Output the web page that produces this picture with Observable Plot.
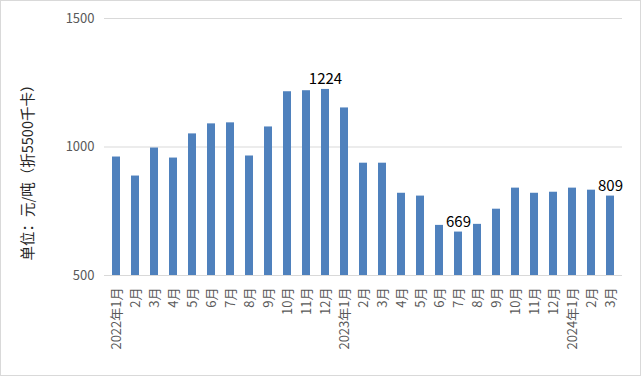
<!DOCTYPE html>
<html><head><meta charset="utf-8">
<script src="https://cdn.jsdelivr.net/npm/d3@7"></script>
<script src="https://cdn.jsdelivr.net/npm/@observablehq/plot@0.6"></script>
<style>
body{margin:0;background:#fff;}
#wrap{width:639px;height:374px;border:1px solid #d9d9d9;overflow:hidden;}
svg{font-family:"Noto Sans CJK SC","Noto Sans",sans-serif;}
</style>
</head><body><div id="wrap"></div>
<script>
const monthLabels = ["2022年1月","2月","3月","4月","5月","6月","7月","8月","9月","10月","11月","12月",
  "2023年1月","2月","3月","4月","5月","6月","7月","8月","9月","10月","11月","12月",
  "2024年1月","2月","3月"];
const prices = [961,887,996,957,1051,1090,1094,965,1078,1215,1219,1224,
  1152,937,937,820,809,695,669,699,758,840,820,824,
  840,832,809];
const labeledIdx = [11, 18, 26];
const yTicks = [500,1000,1500];
const yTitle = "单位：元/吨（折5500千卡）";

const data = prices.map((v,i)=>({i, v, label: monthLabels[i]}));
const labeled = data.filter(d=>labeledIdx.includes(d.i));

const chart = Plot.plot({
  width: 639, height: 374,
  marginLeft: 103, marginRight: 18, marginTop: 17, marginBottom: 100,
  style: {fontFamily: '"Noto Sans CJK SC","Noto Sans",sans-serif', background: "#fff"},
  x: {type: "band", domain: d3.range(prices.length), paddingInner: 0.58, paddingOuter: 0.29, label: null},
  y: {domain: [500,1500], label: null},
  marks: [
    Plot.gridY(yTicks, {stroke: "#d9d9d9", strokeOpacity: 1}),
    Plot.barY(data, {x: "i", y1: () => yTicks[0], y2: "v", fill: "#4f81bd"}),
    Plot.text(labeled, {x: "i", y: "v", text: d => String(d.v), lineAnchor: "bottom", dy: -5, fontSize: 15, fill: "#000"}),
    Plot.axisY(yTicks, {tickSize: 0, tickPadding: 10, fontSize: 13, fill: "#595959", tickFormat: d => String(d), label: null}),
    Plot.axisX({tickSize: 0, tickPadding: 12, tickRotate: -90, fontSize: 13, fill: "#595959", tickFormat: i => monthLabels[i], label: null}),
    Plot.text([yTitle], {frameAnchor: "left", textAnchor: "middle", dx: -76, dy: 22, rotate: -90, fontSize: 14.5, fill: "#262626"})
  ]
});
document.getElementById("wrap").appendChild(chart);
</script>
</body></html>
